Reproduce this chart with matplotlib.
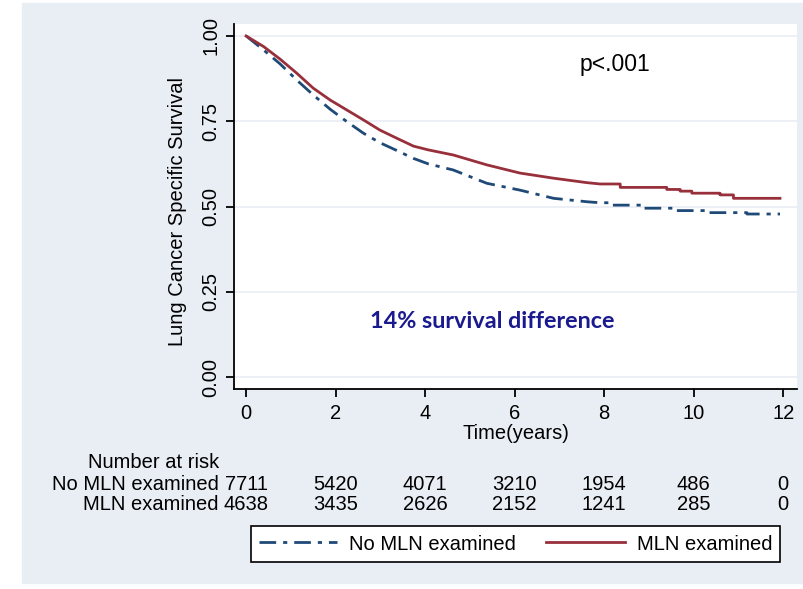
import matplotlib.pyplot as plt
from matplotlib.patches import Rectangle
from matplotlib.transforms import blended_transform_factory

# survival curves (years, survival)
mln_t = [0, 0.39, 0.76, 1.13, 1.50, 1.88, 2.25, 2.62, 2.99, 3.37, 3.74, 4.07,
         4.63, 5.38, 6.12, 6.87, 7.61, 7.91, 8.36, 8.36, 9.40, 9.40, 9.70, 9.70,
         9.96, 9.96, 10.59, 10.59, 10.89, 10.89, 11.93]
mln_s = [1.0, 0.969, 0.932, 0.891, 0.847, 0.812, 0.783, 0.754, 0.724, 0.700, 0.677, 0.666,
         0.651, 0.622, 0.598, 0.583, 0.570, 0.566, 0.566, 0.556, 0.556, 0.550, 0.550, 0.545,
         0.545, 0.539, 0.539, 0.534, 0.534, 0.524, 0.524]

nomln_t = [0, 0.39, 0.76, 1.13, 1.50, 1.88, 2.25, 2.62, 2.99, 3.37, 3.74, 4.07,
           4.63, 5.38, 6.12, 6.87, 7.61, 7.91, 8.13, 8.13, 8.88, 8.88, 9.62, 9.62,
           10.29, 10.29, 11.19, 11.19, 11.93]
nomln_s = [1.0, 0.959, 0.918, 0.871, 0.827, 0.785, 0.749, 0.715, 0.687, 0.664, 0.641, 0.625,
           0.607, 0.568, 0.548, 0.524, 0.514, 0.511, 0.511, 0.504, 0.504, 0.495, 0.495, 0.488,
           0.488, 0.482, 0.482, 0.478, 0.478]

# number at risk table
risk_times = [0, 2, 4, 6, 8, 10, 12]
risk_nomln = [7711, 5420, 4071, 3210, 1954, 486, 0]
risk_mln = [4638, 3435, 2626, 2152, 1241, 285, 0]

yticks = [0.00, 0.25, 0.50, 0.75, 1.00]
xticks = [0, 2, 4, 6, 8, 10, 12]

plt.rcParams['font.family'] = ['Liberation Sans', 'DejaVu Sans']
fs = 14.5

W, H = 804, 589
fig = plt.figure(figsize=(W / 100, H / 100), dpi=100)
bg = '#e9eef5'
fig.patches.append(Rectangle((22 / W, 1 - 583 / H), 1 - 22 / W, (583 - 3) / H,
                             transform=fig.transFigure, color=bg, zorder=-10))

ax = fig.add_axes([234 / W, 1 - 389 / H, (797 - 234) / W, (389 - 24) / H])
ax.set_facecolor('white')

red = '#98303c'
blue = '#1f4a78'
ax.plot(nomln_t, nomln_s, color=blue, lw=2, dashes=(6, 2.5, 1.5, 2.5), label='No MLN examined')
ax.plot(mln_t, mln_s, color=red, lw=2, label='MLN examined')

ax.set_xlim(-0.27, 12.31)
ax.set_ylim(-0.035, 1.035)
ax.set_xticks(xticks)
ax.set_yticks(yticks)
ax.set_yticklabels(['%.2f' % v for v in yticks], rotation=90, va='center')
ax.yaxis.grid(True, color=bg, lw=1.2)
ax.set_axisbelow(True)
for s in ['top', 'right']:
    ax.spines[s].set_visible(False)
for s in ['left', 'bottom']:
    ax.spines[s].set_linewidth(1.3)
ax.tick_params(labelsize=fs, length=6, width=1.3)
ax.tick_params(axis='x', pad=5)
ax.tick_params(axis='y', pad=4)

ax.set_xlabel('Time(years)', fontsize=fs)
ax.xaxis.set_label_coords(0.5, -0.095)
ax.text(-0.1, 0.485, 'Lung Cancer Specific Survival', transform=ax.transAxes,
        rotation=90, ha='center', va='center', fontsize=fs)

ax.text(0.677, 0.888, 'p<.001', transform=ax.transAxes, ha='center', va='center', fontsize=16.5)
ax.text(0.458, 0.184, '14% survival difference', transform=ax.transAxes, ha='center',
        va='center', fontsize=16.8, fontweight='bold', family=['Lato', 'DejaVu Sans'],
        color='#1a1a8e')

# number at risk
tr_num = blended_transform_factory(ax.transData, fig.transFigure)
tr_lab = blended_transform_factory(ax.transAxes, fig.transFigure)
lab_x = (219 - 234) / (797 - 234)
ax.text(lab_x, 1 - 462 / H, 'Number at risk', transform=tr_lab, ha='right', va='center',
        fontsize=fs, clip_on=False)
ax.text(lab_x, 1 - 485 / H, 'No MLN examined', transform=tr_lab, ha='right', va='center',
        fontsize=fs, clip_on=False)
ax.text(lab_x, 1 - 505 / H, 'MLN examined', transform=tr_lab, ha='right', va='center',
        fontsize=fs, clip_on=False)
for t, a, b in zip(risk_times, risk_nomln, risk_mln):
    ax.text(t, 1 - 485 / H, str(a), transform=tr_num, ha='center', va='center',
            fontsize=fs, clip_on=False)
    ax.text(t, 1 - 505 / H, str(b), transform=tr_num, ha='center', va='center',
            fontsize=fs, clip_on=False)

leg = fig.legend(loc='center', bbox_to_anchor=(515.5 / W, 1 - 544 / H), ncol=2,
                 fontsize=fs, frameon=True, fancybox=False, edgecolor='black',
                 facecolor='white', framealpha=1,
                 handlelength=3.9, handletextpad=0.6, columnspacing=1.5, borderpad=0.4)
leg.get_frame().set_linewidth(1.2)

fig.savefig('out.png', dpi=100, facecolor='white')
